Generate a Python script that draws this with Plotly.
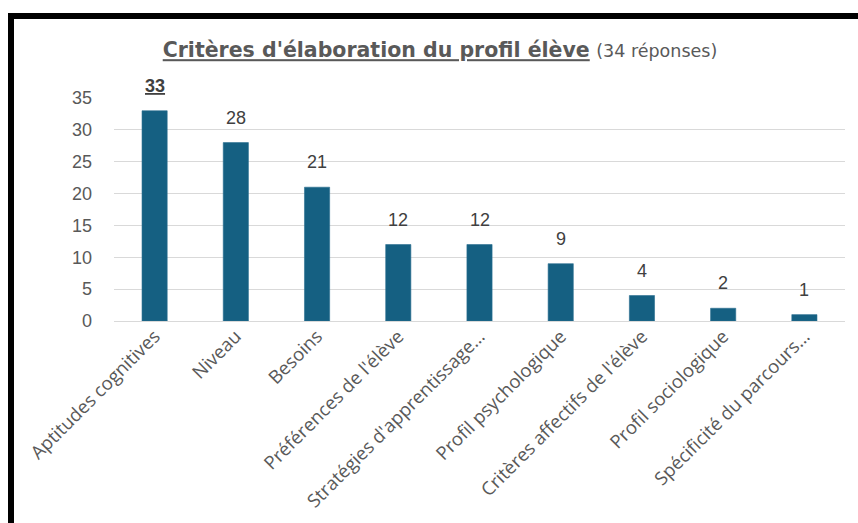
import plotly.graph_objects as go

categories = [
    "Aptitudes cognitives",
    "Niveau",
    "Besoins",
    "Préférences de l'élève",
    "Stratégies d'apprentissage…",
    "Profil psychologique",
    "Critères affectifs de l'élève",
    "Profil sociologique",
    "Spécificité du parcours…",
]
values = [33, 28, 21, 12, 12, 9, 4, 2, 1]
y_ticks = [0, 5, 10, 15, 20, 25, 30, 35]

W, H = 858, 523
L, R, T, B = 114, 13, 98, 202
pw, ph = W - L - R, H - T - B

def px_x(x):
    return (x - L) / pw

def px_y(y):
    return (H - B - y) / ph

bar_color = "#156082"

fig = go.Figure()
fig.add_trace(go.Bar(
    x=categories, y=values,
    marker=dict(color=bar_color, line=dict(color="#2a6f90", width=0.6)),
    width=0.31,
    cliponaxis=False,
    hoverinfo="x+y",
))

annotations = []
for i, (c, v) in enumerate(zip(categories, values)):
    txt = f"<b><u>{v}</u></b>" if i == 0 else str(v)
    annotations.append(dict(
        x=c, y=v, xref="x", yref="y", text=txt, showarrow=False,
        yanchor="bottom", yshift=13,
        font=dict(family="Liberation Sans, Arial", size=18, color="#404040"),
    ))

shapes = [
    # top border
    dict(type="rect", xref="paper", yref="paper",
         x0=px_x(8), x1=px_x(860), y0=px_y(19), y1=px_y(13),
         fillcolor="black", line=dict(width=0), layer="above"),
    # left border
    dict(type="rect", xref="paper", yref="paper",
         x0=px_x(8), x1=px_x(14), y0=px_y(525), y1=px_y(13),
         fillcolor="black", line=dict(width=0), layer="above"),
]

fig.update_layout(
    width=W, height=H,
    margin=dict(l=L, r=R, t=T, b=B, autoexpand=False),
    paper_bgcolor="white", plot_bgcolor="white",
    showlegend=False,
    title=dict(
        text="<b><u>Critères d'élaboration du profil élève</u></b> "
             "<span style='font-size:17.5px;font-weight:normal'>(34 réponses)</span>",
        x=440 / W, xanchor="center", xref="container",
        y=1 - 50 / H, yanchor="middle", yref="container",
        font=dict(family="DejaVu Sans, Open Sans", size=20.5, color="#595959"),
    ),
    xaxis=dict(
        tickangle=-45,
        tickfont=dict(family="Open Sans, Noto Sans", size=18.5, color="#595959"),
        showgrid=False, showline=False, ticks="",
        range=[-0.5, len(categories) - 0.5],
    ),
    yaxis=dict(
        range=[0, 35], tickvals=y_ticks,
        tickfont=dict(family="Liberation Sans, Arial", size=18, color="#595959"),
        showgrid=True, gridcolor="#d9d9d9", gridwidth=1.3,
        zeroline=True, zerolinecolor="#d9d9d9", zerolinewidth=1.3,
        showline=False, ticks="", ticklabelstandoff=21,
    ),
    annotations=annotations,
    shapes=shapes,
)

fig.write_html("out.html", config={"displayModeBar": False},
               post_script="document.body.style.margin='0';")
